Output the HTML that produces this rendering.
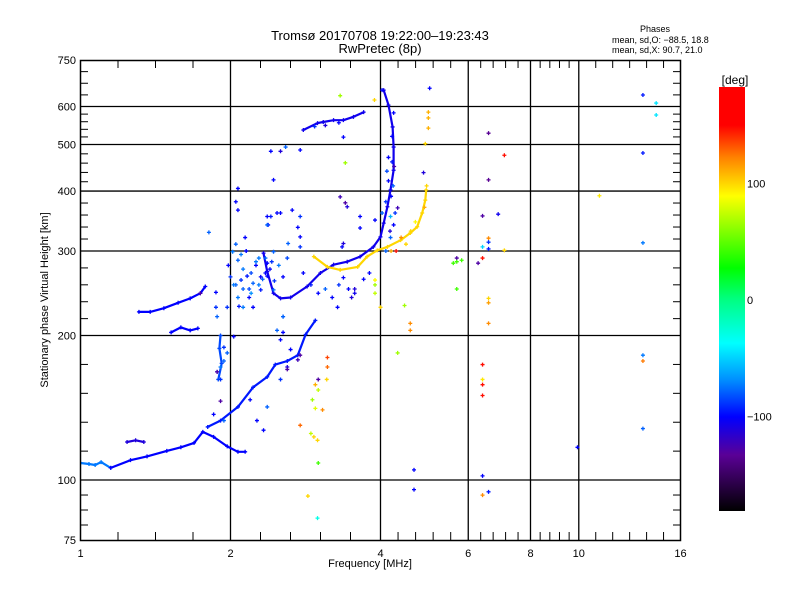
<!DOCTYPE html>
<html><head><meta charset="utf-8">
<style>
html,body{margin:0;padding:0;background:#fff;}
svg{display:block;font-family:"Liberation Sans",sans-serif;}
</style></head>
<body>
<svg id="chart" width="800" height="600" viewBox="0 0 800 600" xmlns="http://www.w3.org/2000/svg">
<defs>
<clipPath id="plotclip"><rect x="80" y="60" width="601" height="480"/></clipPath>
<linearGradient id="cbar" x1="0" y1="0" x2="0" y2="1">
<stop offset="0" stop-color="#ff0000"/>
<stop offset="0.09" stop-color="#ff0000"/>
<stop offset="0.165" stop-color="#ff8000"/>
<stop offset="0.257" stop-color="#ffff00"/>
<stop offset="0.427" stop-color="#00ff00"/>
<stop offset="0.50" stop-color="#00ff80"/>
<stop offset="0.604" stop-color="#00ffff"/>
<stop offset="0.69" stop-color="#0090ff"/>
<stop offset="0.778" stop-color="#0000ff"/>
<stop offset="0.868" stop-color="#5a0096"/>
<stop offset="1" stop-color="#000000"/>
</linearGradient>
</defs>
<text x="380" y="40" font-size="13" text-anchor="middle">Tromsø 20170708 19:22:00–19:23:43</text>
<text x="380" y="53" font-size="13" text-anchor="middle">RwPretec (8p)</text>
<text x="655" y="32" font-size="9" text-anchor="middle">Phases</text>
<text x="612" y="43" font-size="9">mean, sd,O: −88.5, 18.8</text>
<text x="612" y="53" font-size="9">mean, sd,X:  90.7, 21.0</text>
<g id="grid"></g>
<g id="ticks"></g>
<g id="marks" clip-path="url(#plotclip)"></g>
<rect x="80.5" y="60.5" width="600" height="480" fill="none" stroke="#000" stroke-width="1.5"/>
<text x="370" y="567" font-size="11" text-anchor="middle">Frequency [MHz]</text>
<text x="48" y="300" font-size="11" text-anchor="middle" transform="rotate(-90 48 300)">Stationary phase Virtual Height [km]</text>
<rect x="719" y="87" width="26" height="424" fill="url(#cbar)"/>
<text x="735" y="84" font-size="12" text-anchor="middle">[deg]</text>
<g id="cbticks"></g>
</svg>
<script>
// ---- data ----
const xTickValues = [1, 2, 4, 6, 8, 10, 16];
const xTickLabels = ["1", "2", "4", "6", "8", "10", "16"];
const yTickValues = [75, 100, 200, 300, 400, 500, 600, 750];
const yTickLabels = ["75", "100", "200", "300", "400", "500", "600", "750"];
const yGridValues = [100, 200, 300, 400, 500, 600];
const cbarValues = [100, 0, -100];
const cbarLabels = ["100", "0", "−100"];

const traceAFreq = [1.0, 1.04, 1.07, 1.10, 1.15];
const traceAHeight = [108.5, 108, 107.5, 109, 106];
const traceAPhase = -75;
const traceA2Freq = [1.15, 1.26, 1.36, 1.49, 1.59, 1.69, 1.76, 1.85, 1.97, 2.07, 2.14];
const traceA2Height = [106, 110, 112, 115, 117, 119.5, 126, 123, 117.5, 114.5, 114.5];
const traceA2Phase = -100;
const traceBFreq = [1.80, 1.91, 2.07, 2.22, 2.37, 2.46, 2.60, 2.73, 2.83, 2.96];
const traceBHeight = [129, 133, 142, 156, 164, 174, 177, 182, 201, 215];
const traceBPhase = -95;
const traceCFreq = [2.33, 2.37, 2.44, 2.52, 2.64, 2.85, 3.03, 3.22, 3.43, 3.64, 3.87, 4.0, 4.06, 4.13, 4.19, 4.25, 4.25, 4.23, 4.15, 4.06];
const traceCHeight = [297, 272, 245, 239, 240, 253, 270, 281, 285, 292, 306, 321, 343, 371, 402, 442, 494, 544, 604, 649];
const traceCPhase = -105;
const traceDFreq = [2.94, 3.13, 3.32, 3.60, 3.76, 3.94, 4.13, 4.39, 4.59, 4.74, 4.85, 4.92, 4.94];
const traceDHeight = [292, 278, 274, 278, 292, 301, 306, 316, 327, 337, 360, 383, 402];
const traceDPhase = 100;
const traceEFreq = [2.80, 2.99, 3.07, 3.22, 3.37, 3.53, 3.70];
const traceEHeight = [536, 554, 557, 562, 562, 571, 584];
const traceEPhase = -105;
const traceFFreq = [1.31, 1.38, 1.47, 1.57, 1.66, 1.74, 1.78];
const traceFHeight = [224, 224, 228, 234, 239, 245, 253];
const traceFPhase = -100;
const traceGFreq = [1.52, 1.59, 1.66, 1.72];
const traceGHeight = [203, 208, 205, 207];
const traceGPhase = -100;
const traceHFreq = [1.91, 1.90, 1.92, 1.89];
const traceHHeight = [200, 188, 175, 162];
const traceHPhase = -85;
const traceIFreq = [1.24, 1.29, 1.34];
const traceIHeight = [120, 121, 120];
const traceIPhase = -110;

const scatterFreq = [6.59,7.09,6.59,6.41,6.89,6.59,6.59,6.41,6.59,7.09,6.41,6.28,5.69,5.60,5.69,5.82,5.69,6.59,6.59,6.59,6.41,6.41,6.41,6.41,9.94,6.41,6.59,6.41,13.45,14.3,14.3,13.45,11.0,13.45,13.45,13.45,13.45,
2.94,2.99,2.90,2.76,3.0,2.96,2.92,2.96,3.06,3.13,3.12,3.13,3.0,2.86,2.99,4.33,4.59,4.59,3.90,3.90,3.90,4.0,4.47,4.67,4.67,2.55,2.55,2.76,2.60,3.0,3.28,3.37,
2.02,2.07,2.10,2.16,2.22,2.30,2.37,2.44,2.07,1.97,2.12,2.22,2.03,1.94,1.97,1.91,1.88,2.37,2.44,2.38,2.41,2.07,2.07,1.81,1.74,1.87,1.87,1.88,
2.44,2.37,2.37,2.52,2.66,2.76,2.73,2.76,2.61,2.76,3.32,3.40,3.43,3.64,3.35,3.37,3.90,4.03,4.19,4.33,2.41,2.52,2.76,2.58,3.40,3.37,4.25,3.89,3.32,4.03,5.02,4.99,4.99,4.99,4.92,4.88,2.05,2.48,3.64,
1.88,1.94,1.91,1.85,1.91,1.94,2.19,2.26,2.33,2.52,2.60,2.73,2.37,2.52,2.64,2.48,2.55,
2.12,2.18,2.25,2.32,2.15,2.28,2.05,2.35,2.20,2.42,4.19,4.25,4.15,4.10,4.22,4.30,4.12,3.55,3.70,3.80,
2.05,2.10,2.15,2.20,2.25,2.30,2.35,2.40,2.45,2.50,2.55,2.60,2.12,2.18,2.28,2.00,1.98,2.03,2.08,2.14,
4.20,4.24,4.18,4.28,4.15,4.22,4.10,4.26,
2.80,2.90,3.00,3.10,3.20,3.30,3.45,3.55,3.50,
4.40,4.60,4.70,4.90,4.50,4.20,4.95,
3.10,3.30,2.95];
const scatterHeight = [528,475,422,355,358,319,313,306,303,301,290,283,290,283,285,287,250,239,234,212,174,162,158,150,117,102,94.5,93,634,610,576,480,391,312,182,177,128,
123,121,125,130,154,158,147,141,140,172,162,180,108.5,92.6,83.3,184,212,205,261,255,245,229,231,105,95.5,219,203,182,172,162,229,264,
299,287,261,266,257,249,266,249,240,229,229,229,199,189,184,172,168,283,299,340,354,365,405,328,245,246,229,219,
422,340,354,360,365,354,336,321,311,306,389,378,371,354,306,311,348,360,354,369,484,484,487,494,458,518,582,619,632,649,655,584,568,541,502,437,380,360,335,
168,177,162,137,146,133,147,133,127,162,170,178,142,196,187,205,219,
275,250,280,262,300,290,255,270,245,285,320,340,420,380,460,300,440,250,262,270,
310,295,300,270,285,265,290,275,260,280,265,290,250,240,255,265,280,255,230,320,
390,410,330,360,470,520,300,450,
270,255,245,250,240,255,250,245,240,
320,330,345,370,310,300,410,
548,555,545];
const scatterPhase = [-130,170,-130,-125,-105,120,-90,-50,-95,100,170,-125,-125,40,40,40,40,100,115,120,170,95,170,170,-100,-100,-95,120,-95,-45,-45,-95,95,-75,-75,125,-80,
100,100,70,130,70,110,60,80,120,130,100,140,40,100,-30,60,120,120,90,60,70,100,60,-100,-100,-75,-100,-125,-110,-125,-100,-100,
-75,-80,-90,-95,-80,-95,-100,-80,-75,-90,-75,-100,-100,-90,-80,-75,-100,-100,-80,-100,-95,-100,-100,-80,-125,-100,-90,-80,
-100,-80,-100,-100,-100,-90,-100,-100,-80,-90,-120,-125,-110,-100,-100,-110,-100,-80,-60,-120,-100,-110,-100,-80,60,-100,-100,100,60,-100,-100,110,110,110,100,-110,-100,-100,-100,
-125,-80,-90,-100,-125,-80,-100,-100,-100,-90,-125,-120,-80,-100,-100,-80,-80,
-75,-85,-100,-80,-95,-75,-80,-100,-70,-90,-80,-100,-100,-90,-95,170,-85,-110,-100,-100,
-80,-75,-100,-85,-75,-100,-80,-100,-90,-75,-100,-85,-80,-100,-75,-90,-100,-75,-95,-100,
-100,-80,-110,-90,-100,-100,-80,-120,
-100,-95,-100,-80,-100,-90,-100,-105,-110,
120,100,90,110,100,110,100,
-110,-100,-90];

// ---- axes ----
const NS = "http://www.w3.org/2000/svg";
const X = f => 80.5 + 150 * Math.log2(f);
const Y = h => 540 - 480 * Math.log10(h / 75);
const cStops = [[-181,[0,0,0]],[-129,[90,0,150]],[-100,[0,0,255]],[-69,[0,150,255]],[-37,[0,255,255]],[0,[0,255,128]],[27,[0,255,0]],[60,[160,255,0]],[89,[255,255,0]],[120,[255,140,0]],[150,[255,32,0]],[183,[255,0,0]]];
function color(v){
  if (v <= cStops[0][0]) return "rgb(0,0,0)";
  for (let i = 1; i < cStops.length; i++) {
    if (v <= cStops[i][0]) {
      const a = cStops[i-1], b = cStops[i], t = (v - a[0]) / (b[0] - a[0]);
      const c = a[1].map((x, k) => Math.round(x + (b[1][k] - x) * t));
      return "rgb(" + c.join(",") + ")";
    }
  }
  return "rgb(255,0,0)";
}
function mk(tag, attrs, parent){
  const el = document.createElementNS(NS, tag);
  for (const k in attrs) el.setAttribute(k, attrs[k]);
  parent.appendChild(el);
  return el;
}
const grid = document.getElementById("grid");
const ticks = document.getElementById("ticks");
const marks = document.getElementById("marks");
const cbt = document.getElementById("cbticks");

xTickValues.forEach((v, i) => {
  const x = X(v);
  if (i > 0 && i < xTickValues.length - 1) {
    const l = mk("line", {x1:x, y1:60, x2:x, y2:540, stroke:"#000", "stroke-width":1.3}, grid);
    
    
  }
  const t = mk("text", {x:x, y:557, "font-size":11, "text-anchor":"middle"}, ticks);
  t.textContent = xTickLabels[i];
  
  
  if (i < xTickValues.length - 1) {
    const x2 = X(xTickValues[i+1]);
    const n = (xTickValues[i+1] - v === 1 ? 4 : (v === 10 ? 6 : 5));
    for (let k = 1; k < n; k++) {
      const xm = x + (x2 - x) * k / n;
      const m1 = mk("line", {x1:xm, y1:540, x2:xm, y2:532, stroke:"#000", "stroke-width":1}, ticks);
      
      
      const m2 = mk("line", {x1:xm, y1:60, x2:xm, y2:68, stroke:"#000", "stroke-width":1}, ticks);
      
      
    }
  }
});
yGridValues.forEach(v => {
  const l = mk("line", {x1:80, y1:Y(v), x2:681, y2:Y(v), stroke:"#000", "stroke-width":1.3}, grid);
  
  
});
yTickValues.forEach((v, i) => {
  const y = Y(v);
  const t = mk("text", {x:76, y:y + 4, "font-size":11, "text-anchor":"end"}, ticks);
  t.textContent = yTickLabels[i];
  
  
  if (i < yTickValues.length - 1) {
    const y2 = Y(yTickValues[i+1]);
    const n = (v === 75 || v === 600) ? 4 : 5;
    for (let k = 1; k < n; k++) {
      const ym = y + (y2 - y) * k / n;
      const m1 = mk("line", {x1:80, y1:ym, x2:88, y2:ym, stroke:"#000", "stroke-width":1}, ticks);
      
      
      const m2 = mk("line", {x1:673, y1:ym, x2:681, y2:ym, stroke:"#000", "stroke-width":1}, ticks);
      
      
    }
  }
});
cbarValues.forEach((v, i) => {
  const t = mk("text", {x:747, y:300 - 1.165 * v + 4, "font-size":11}, cbt);
  t.textContent = cbarLabels[i];
  
  
});

function cross(f, h, p){
  const x = X(f), y = Y(h);
  const g = mk("path", {d:"M"+(x-2)+" "+y+"h4M"+x+" "+(y-2)+"v4", stroke:color(p), "stroke-width":1.3, fill:"none"}, marks);
  
  
}
function trace(fs, hs, p, name){
  const pts = fs.map((f, i) => X(f).toFixed(1) + "," + Y(hs[i]).toFixed(1)).join(" ");
  const pl = mk("polyline", {points:pts, fill:"none", stroke:color(p), "stroke-width":2.2, "stroke-linejoin":"round", "stroke-linecap":"round"}, marks);
  
  
  fs.forEach((f, i) => cross(f, hs[i], p));
}
trace(traceAFreq, traceAHeight, traceAPhase, "trace-e-layer-o-start");
trace(traceA2Freq, traceA2Height, traceA2Phase, "trace-e-layer-o");
trace(traceBFreq, traceBHeight, traceBPhase, "trace-f1-rise");
trace(traceCFreq, traceCHeight, traceCPhase, "trace-f2-o-mode");
trace(traceDFreq, traceDHeight, traceDPhase, "trace-f2-x-mode");
trace(traceEFreq, traceEHeight, traceEPhase, "trace-second-hop");
trace(traceFFreq, traceFHeight, traceFPhase, "trace-spread-low-1");
trace(traceGFreq, traceGHeight, traceGPhase, "trace-spread-low-2");
trace(traceHFreq, traceHHeight, traceHPhase, "trace-vertical-2mhz");
trace(traceIFreq, traceIHeight, traceIPhase, "trace-small-e");
scatterFreq.forEach((f, i) => cross(f, scatterHeight[i], scatterPhase[i]));
</script>
</body></html>
